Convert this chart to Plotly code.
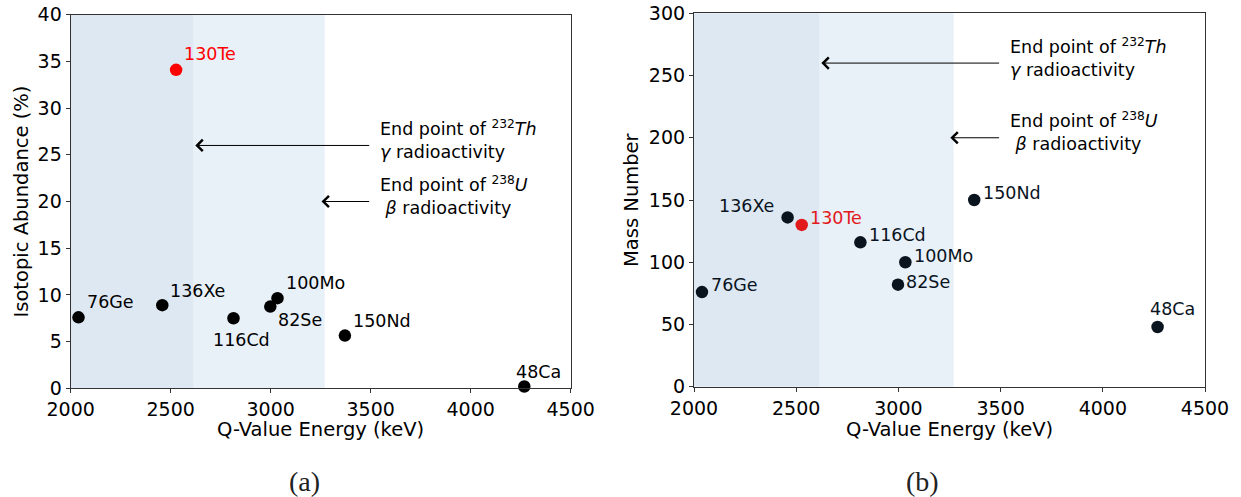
import plotly.graph_objects as go

# ---------------- data ----------------
isotopes = ["76Ge", "136Xe", "130Te", "116Cd", "82Se", "100Mo", "150Nd", "48Ca"]
q_value_kev = [2039, 2458, 2527, 2814, 2998, 3034, 3371, 4268]
abundance_pct = [7.6, 8.9, 34.1, 7.5, 8.75, 9.65, 5.64, 0.19]
mass_number = [76, 136, 130, 116, 82, 100, 150, 48]
highlight = "130Te"

th_gamma_endpoint = 2615   # keV, 232Th gamma line
u_beta_endpoint = 3270     # keV, 238U (214Bi) beta endpoint
arrow_tail_kev = 3500
th_arrow_level = [26, 260]  # panel (a), panel (b)
u_arrow_level = [20, 200]

x_ticks = [2000, 2500, 3000, 3500, 4000, 4500]
y_ticks_a = [0, 5, 10, 15, 20, 25, 30, 35, 40]
y_ticks_b = [0, 50, 100, 150, 200, 250, 300]

# ---------------- layout helpers ----------------
W, H = 1241, 497
def px(p):
    return p / W
def py(p):
    return 1 - p / H

FONT = "DejaVu Sans"
TICK_SIZE = 19
TITLE_SIZE = 19.5
LABEL_SIZE = 17.5
DARK_BAND = "#dde8f2"
LIGHT_BAND = "#e8f0f8"
FRAME = "#333333"

# label offsets (px): xanchor, dx, dy (dy positive = up)
offs_a = {
    "76Ge": ("left", 9, 15), "136Xe": ("left", 9, 14.6), "130Te": ("left", 9, 16),
    "116Cd": ("left", -19.7, -22), "82Se": ("left", 9, -13.3), "100Mo": ("left", 9, 15.4),
    "150Nd": ("left", 9, 14.7), "48Ca": ("left", -7.3, 14.3),
}
offs_b = {
    "76Ge": ("left", 9.7, 7.3), "136Xe": ("right", -14.4, 11.3), "130Te": ("left", 9.7, 7),
    "116Cd": ("left", 9.7, 7.3), "82Se": ("left", 9.3, 3), "100Mo": ("left", 10, 6.7),
    "150Nd": ("left", 9.3, 7.3), "48Ca": ("left", -7, 18.3),
}

fig = go.Figure()

panels = [
    dict(xa="x", ya="y", yvals=abundance_pct, offs=offs_a, black="#000000", red="#ff0000", idx=0),
    dict(xa="x2", ya="y2", yvals=mass_number, offs=offs_b, black="#0a141e", red="#e31a1c", idx=1),
]

annotations = []
shapes = []
for p in panels:
    colors = [p["red"] if n == highlight else p["black"] for n in isotopes]
    fig.add_trace(go.Scatter(
        x=q_value_kev, y=p["yvals"], mode="markers", xaxis=p["xa"], yaxis=p["ya"],
        marker=dict(size=12.5, color=colors, line=dict(width=0)),
        showlegend=False, hoverinfo="skip", cliponaxis=False,
    ))
    # bands
    shapes.append(dict(type="rect", xref=p["xa"], yref=p["ya"] + " domain",
                       x0=x_ticks[0], x1=th_gamma_endpoint, y0=0, y1=1,
                       fillcolor=DARK_BAND, line=dict(width=0), layer="below"))
    shapes.append(dict(type="rect", xref=p["xa"], yref=p["ya"] + " domain",
                       x0=th_gamma_endpoint, x1=u_beta_endpoint, y0=0, y1=1,
                       fillcolor=LIGHT_BAND, line=dict(width=0), layer="below"))
    # point labels
    for n, xv, yv, c in zip(isotopes, q_value_kev, p["yvals"], colors):
        anc, dx, dy = p["offs"][n]
        annotations.append(dict(
            x=xv, y=yv, xref=p["xa"], yref=p["ya"], text=n, showarrow=False,
            xanchor=anc, yanchor="middle",
            xshift=dx - 3 if anc == "left" else dx + 3, yshift=dy,
            font=dict(family=FONT, size=LABEL_SIZE, color=c),
        ))
    # arrows
    i = p["idx"]
    for lvl, tip, txt in [
        (th_arrow_level[i], th_gamma_endpoint + 8,
         "End point of <sup>232</sup><i>Th</i><br><i>γ</i> radioactivity"),
        (u_arrow_level[i], u_beta_endpoint - 16,
         "End point of <sup>238</sup><i>U</i><br>\u00a0<i>β</i> radioactivity"),
    ]:
        annotations.append(dict(
            x=tip, y=lvl, ax=arrow_tail_kev, ay=lvl, xref=p["xa"], yref=p["ya"],
            axref=p["xa"], ayref=p["ya"], text="", showarrow=True,
            arrowhead=4, arrowsize=2.2, arrowwidth=1.0, arrowcolor="#000000",
        ))
        annotations.append(dict(
            x=arrow_tail_kev + 50, y=lvl, xref=p["xa"], yref=p["ya"], text=txt,
            showarrow=False, xanchor="left", yanchor="middle", align="left",
            xshift=-3, yshift=6,
            font=dict(family=FONT, size=LABEL_SIZE, color="#000000"),
        ))

# axis titles & panel captions
annotations += [
    dict(x=px(320.7), y=py(429), xref="paper", yref="paper", text="Q-Value Energy (keV)",
         showarrow=False, xanchor="center", yanchor="middle",
         font=dict(family=FONT, size=TITLE_SIZE, color="#000")),
    dict(x=px(949.5), y=py(429), xref="paper", yref="paper", text="Q-Value Energy (keV)",
         showarrow=False, xanchor="center", yanchor="middle",
         font=dict(family=FONT, size=TITLE_SIZE, color="#000")),
    dict(x=px(21), y=py(201.5), xref="paper", yref="paper", text="Isotopic Abundance (%)",
         showarrow=False, xanchor="center", yanchor="middle", textangle=-90,
         font=dict(family=FONT, size=TITLE_SIZE, color="#000")),
    dict(x=px(631), y=py(200), xref="paper", yref="paper", text="Mass Number",
         showarrow=False, xanchor="center", yanchor="middle", textangle=-90,
         font=dict(family=FONT, size=TITLE_SIZE, color="#000")),
    dict(x=px(304.5), y=py(481), xref="paper", yref="paper", text="(a)",
         showarrow=False, xanchor="center", yanchor="middle",
         font=dict(family="Liberation Serif", size=28, color="#222")),
    dict(x=px(922), y=py(481), xref="paper", yref="paper", text="(b)",
         showarrow=False, xanchor="center", yanchor="middle",
         font=dict(family="Liberation Serif", size=28, color="#222")),
]

axis_common = dict(showline=True, linecolor=FRAME, linewidth=1.2, mirror=True,
                   ticks="outside", ticklen=4, tickwidth=1, tickcolor=FRAME,
                   showgrid=False, zeroline=False, automargin=False,
                   tickfont=dict(family=FONT, size=TICK_SIZE, color="#000"))

fig.update_layout(
    width=W, height=H, margin=dict(l=0, r=0, t=0, b=0, pad=0),
    paper_bgcolor="white", plot_bgcolor="white",
    xaxis=dict(domain=[px(70.7), px(570.7)], range=[2000, 4500], tickvals=x_ticks,
               anchor="y", **axis_common),
    yaxis=dict(domain=[py(388.3), py(14.7)], range=[0, 40], tickvals=y_ticks_a,
               anchor="x", **axis_common),
    xaxis2=dict(domain=[px(694), px(1205)], range=[2000, 4500], tickvals=x_ticks,
                anchor="y2", **axis_common),
    yaxis2=dict(domain=[py(386.7), py(13.3)], range=[0, 300], tickvals=y_ticks_b,
                anchor="x2", **axis_common),
    shapes=shapes, annotations=annotations,
)

fig.write_html(
    "out.html",
    config={"displayModeBar": False},
    post_script="document.body.style.margin='0';document.body.style.overflow='hidden';",
)
